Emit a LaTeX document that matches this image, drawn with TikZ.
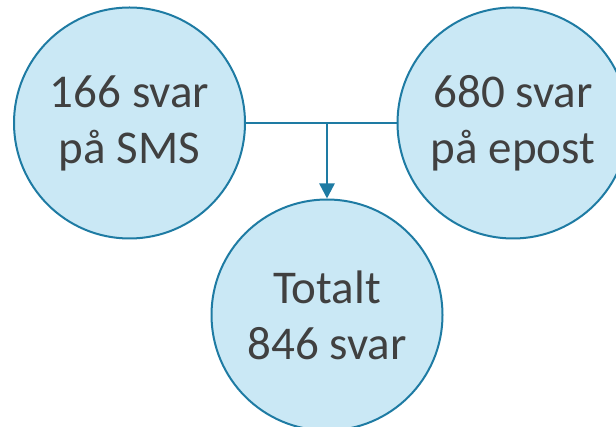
\documentclass[tikz,border=0pt]{standalone}
\usepackage{fontspec}
\setmainfont{Carlito}
\usetikzlibrary{arrows.meta}
\definecolor{circfill}{HTML}{CAE8F5}
\definecolor{circline}{HTML}{1E7BA3}
\definecolor{txt}{HTML}{404040}
\tikzset{
  bubble/.style={circle, draw=circline, fill=circfill, line width=2pt, minimum size=231pt, inner sep=0pt, align=center, text=txt, font=\fontsize{47}{56}\selectfont},
  link/.style={draw=circline, line width=1.5pt},
  feed/.style={draw=circline, line width=2.5pt, -{Triangle[length=15pt,width=15pt]}}
}
\begin{document}
\begin{tikzpicture}[x=1pt,y=-1pt]
\useasboundingbox (0,0) rectangle (616,427);
\node[bubble] (L) at (129.5,123) {166 svar\\på SMS};
\node[bubble] (R) at (513,123) {680 svar\\på epost};
\node[bubble] (B) at (327,315) {Totalt\\846 svar};
\path[link] (L.east) -- (R.west);
\coordinate (J) at (L.east -| B.north);
\path[feed] (J) -- (B.north);
\end{tikzpicture}
\end{document}
